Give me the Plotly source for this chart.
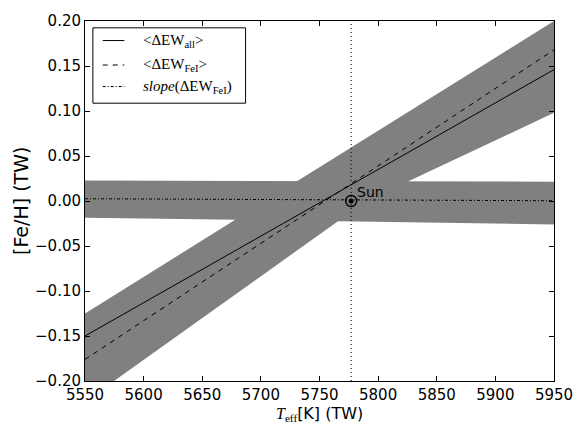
import plotly.graph_objects as go

# Effective temperature grid (K) and [Fe/H] trends from the equivalent-width fits
teff = [5550, 5950]
feh_all = [-0.150, 0.146]      # <ΔEW_all>
feh_fei = [-0.176, 0.168]      # <ΔEW_FeI>
feh_slope = [0.0025, 0.0003]   # slope(ΔEW_FeI)

# Uncertainty envelope of the slope condition (nearly flat)
flat_teff = [5550, 5950]
flat_upper = [0.0228, 0.0214]
flat_lower = [-0.0185, -0.026]

# Uncertainty envelope of the mean-EW conditions (rising)
diag_teff_upper = [5550, 5950]
diag_upper = [-0.125, 0.200]
diag_teff_lower = [5550, 5790, 5950]
diag_lower = [-0.223, 0.0, 0.098]

# Solar reference point
sun_teff = 5777
sun_feh = 0.0

GRAY = "#808080"
SANS = "DejaVu Sans"
SERIF = "Liberation Serif"

fig = go.Figure()


def envelope(x_up, y_up, x_lo, y_lo):
    xs = list(x_up) + list(reversed(x_lo))
    ys = list(y_up) + list(reversed(y_lo))
    return go.Scatter(x=xs, y=ys, fill="toself", fillcolor=GRAY,
                      line=dict(width=0), mode="lines",
                      hoverinfo="skip", showlegend=False)


fig.add_trace(envelope(flat_teff, flat_upper, flat_teff, flat_lower))
fig.add_trace(envelope(diag_teff_upper, diag_upper, diag_teff_lower, diag_lower))

fig.add_trace(go.Scatter(x=teff, y=feh_all, mode="lines",
                         line=dict(color="black", width=1), showlegend=False))
fig.add_trace(go.Scatter(x=teff, y=feh_fei, mode="lines",
                         line=dict(color="black", width=1, dash="5px,5px"),
                         showlegend=False))
fig.add_trace(go.Scatter(x=teff, y=feh_slope, mode="lines",
                         line=dict(color="black", width=1, dash="3px,2px,1px,2px"),
                         showlegend=False))

# Vertical dotted line at the solar temperature
fig.add_vline(x=sun_teff, line=dict(color="black", width=1, dash="1px,3px"))

# Solar symbol: ring with a central dot
fig.add_trace(go.Scatter(x=[sun_teff], y=[sun_feh], mode="markers",
                         marker=dict(symbol="circle-open", size=11, color="black",
                                     line=dict(color="black", width=1.4)),
                         showlegend=False))
fig.add_trace(go.Scatter(x=[sun_teff], y=[sun_feh], mode="markers",
                         marker=dict(symbol="circle", size=5, color="black"),
                         showlegend=False))
fig.add_annotation(x=sun_teff + 3, y=sun_feh + 0.010, text="Sun", showarrow=False,
                   xanchor="left", yanchor="middle",
                   font=dict(family=SANS, size=14, color="black"))

# Legend box drawn in paper coordinates
fig.add_shape(type="rect", xref="paper", yref="paper",
              x0=0.0168, x1=0.3424, y0=0.7717, y1=0.981,
              line=dict(color="black", width=1), fillcolor="white", layer="above")
legend_rows = [
    (0.9457, "solid", "&lt;ΔEW<sub>all</sub>&gt;"),
    (0.8777, "5px,5px", "&lt;ΔEW<sub>FeI</sub>&gt;"),
    (0.8179, "3px,2px,1px,2px", "<i>slope</i>(ΔEW<sub>FeI</sub>)"),
]
for y, dash, label in legend_rows:
    fig.add_shape(type="line", xref="paper", yref="paper",
                  x0=0.0378, x1=0.0840, y0=y, y1=y,
                  line=dict(color="black", width=1, dash=dash), layer="above")
    fig.add_annotation(xref="paper", yref="paper", x=0.1197, y=y, text=label,
                       showarrow=False, xanchor="left", yanchor="middle",
                       font=dict(family=SERIF, size=15, color="black"))

# Axis titles
fig.add_annotation(xref="paper", yref="paper", x=0.5, y=-0.092,
                   text=f"<span style='font-family:{SERIF}'><i>T</i><sub>eff</sub></span>[K] (TW)",
                   showarrow=False, xanchor="center", yanchor="middle",
                   font=dict(family=SANS, size=16, color="black"))
fig.add_annotation(xref="paper", yref="paper", x=-0.1366, y=0.5,
                   text="[Fe/H] (TW)", textangle=-90,
                   showarrow=False, xanchor="center", yanchor="middle",
                   font=dict(family=SANS, size=19, color="black"))

axis_common = dict(showline=True, linecolor="black", linewidth=1, mirror="allticks",
                   ticks="inside", ticklen=5, tickcolor="black", tickwidth=1,
                   showgrid=False, zeroline=False,
                   tickfont=dict(family=SANS, size=15, color="black"))

fig.update_xaxes(range=[5550, 5950], tickvals=[5550, 5600, 5650, 5700, 5750, 5800, 5850, 5900, 5950],
                 **axis_common)
fig.update_yaxes(range=[-0.2, 0.2], tickvals=[-0.20, -0.15, -0.10, -0.05, 0.0, 0.05, 0.10, 0.15, 0.20],
                 tickformat=".2f", **axis_common)

fig.update_layout(width=585, height=425,
                  margin=dict(l=85, r=24, t=13, b=44),
                  plot_bgcolor="white", paper_bgcolor="white",
                  showlegend=False)

fig.write_html("out.html")
